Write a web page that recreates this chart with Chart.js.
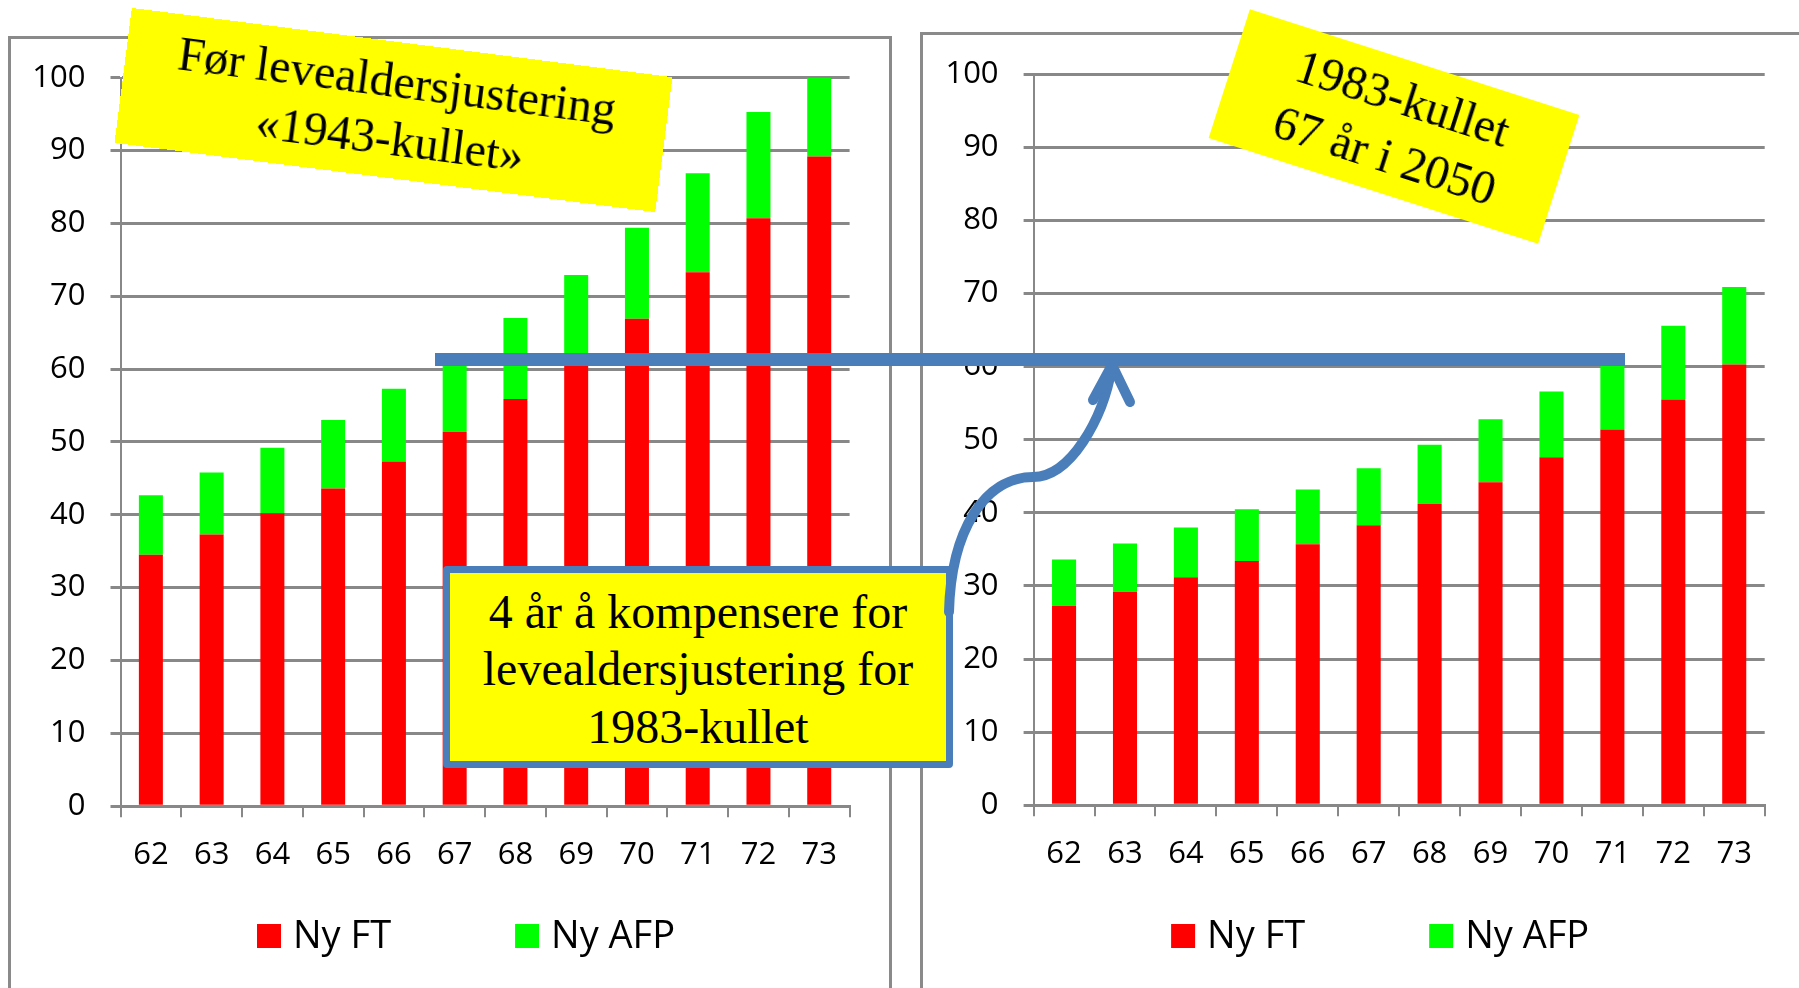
<!DOCTYPE html>
<html><head><meta charset="utf-8">
<script src="https://cdn.jsdelivr.net/npm/chart.js@4.4.1/dist/chart.umd.min.js"></script>
<style>
html,body{margin:0;padding:0;background:#fff;width:1799px;height:988px;overflow:hidden;position:relative;}
.panel{position:absolute;border:3px solid #8a8a8a;box-sizing:border-box;}
canvas{position:absolute;top:0;}
.note{position:absolute;background:#ffff00;font-family:"Liberation Serif","Times New Roman",serif;font-size:48px;color:#000;text-align:center;display:flex;flex-direction:column;justify-content:center;align-items:center;line-height:1.2;white-space:nowrap;box-sizing:border-box;}
</style></head>
<body>
<div class="panel" style="left:7.5px;top:36px;width:884px;height:1000px;"></div>
<div class="panel" style="left:920.3px;top:32px;width:1000px;height:1000px;"></div>
<canvas id="cLeft" width="900" height="988" style="left:0"></canvas>
<canvas id="cRight" width="899" height="988" style="left:900px"></canvas>

<div class="note" style="left:120.5px;top:42px;width:545px;height:136px;transform:rotate(7.3deg);">
<div>Før levealdersjustering</div><div>«1943-kullet»</div></div>
<div class="note" style="left:1221px;top:58.5px;width:346px;height:135px;transform:rotate(17.8deg);line-height:1.24;">
<div>1983-kullet</div><div>67 år i 2050</div></div>
<div class="note" style="left:443px;top:566px;width:510px;height:202px;border:7px solid #4a7ebb;border-radius:4px;padding-top:4px;">
<div>4 år å kompensere for</div><div>levealdersjustering for</div><div>1983-kullet</div></div>

<svg width="1799" height="988" style="position:absolute;left:0;top:0;pointer-events:none">
<rect x="435" y="353" width="1190" height="13" fill="#4a7ebb"/>
<path d="M949 612 C951 530 985 477 1033 477 C1070 477 1103 420 1112 367" stroke="#4a7ebb" stroke-width="10" fill="none" stroke-linecap="round"/>
<path d="M1093 400 L1112 365 L1130 402" stroke="#4a7ebb" stroke-width="10" fill="none" stroke-linecap="round" stroke-linejoin="round"/>
</svg>

<script>
const categories = ['62','63','64','65','66','67','68','69','70','71','72','73'];
const seriesNames = ['Ny FT','Ny AFP'];
const seriesColors = ['#ff0000','#00ff00'];
// Left chart: "Før levealdersjustering «1943-kullet»"
const leftFT  = [34.5, 37.3, 40.2, 43.6, 47.3, 51.4, 55.9, 61.0, 66.9, 73.3, 80.7, 89.2];
const leftAFP = [8.2, 8.5, 9.0, 9.4, 10.0, 10.4, 11.1, 11.9, 12.5, 13.6, 14.6, 10.8];
// Right chart: "1983-kullet, 67 år i 2050"
const rightFT  = [27.3, 29.2, 31.2, 33.4, 35.7, 38.3, 41.2, 44.2, 47.6, 51.4, 55.5, 60.3];
const rightAFP = [6.3, 6.6, 6.8, 7.1, 7.5, 7.8, 8.1, 8.6, 9.0, 9.6, 10.1, 10.6];
const yMin = 0, yMax = 100, yStep = 10;

const GRID = '#888888';
const TICK_FONT = {family:'"Open Sans", sans-serif', size:31};

const boxLegend = {
  id:'boxLegend',
  afterDraw(chart, args, opts){
    const ctx = chart.ctx, ca = chart.chartArea;
    ctx.save();
    ctx.font = '38px "Open Sans", sans-serif';
    const box = 24, gap = 12, itemGap = 124;
    const items = chart.data.datasets.map(d => ({label:d.label, color:d.backgroundColor, w:ctx.measureText(d.label).width}));
    const total = items.reduce((s,it) => s + box + gap + it.w, 0) + itemGap * (items.length - 1);
    let x = (ca.left + ca.right) / 2 + opts.shift - total / 2;
    const baseY = opts.y;
    items.forEach(it => {
      ctx.fillStyle = it.color;
      ctx.fillRect(x, baseY - 24, box, box);
      ctx.fillStyle = '#000';
      ctx.textBaseline = 'alphabetic';
      ctx.textAlign = 'left';
      ctx.fillText(it.label, x + box + gap, baseY);
      x += box + gap + it.w + itemGap;
    });
    ctx.restore();
  }
};

function makeChart(id, ft, afp, geo){
  return new Chart(document.getElementById(id), {
    type:'bar',
    data:{labels:categories, datasets:[
      {label:seriesNames[0], data:ft, backgroundColor:seriesColors[0], borderWidth:0, barPercentage:0.395, categoryPercentage:1},
      {label:seriesNames[1], data:afp, backgroundColor:seriesColors[1], borderWidth:0, barPercentage:0.395, categoryPercentage:1}
    ]},
    options:{
      responsive:false, animation:false, devicePixelRatio:1,
      layout:{padding:{left:0, top:geo.top, right:geo.right, bottom:geo.bottom}},
      plugins:{legend:{display:false}, tooltip:{enabled:false}, boxLegend:{y:948, shift:-19}},
      scales:{
        x:{stacked:true,
           grid:{display:true, drawOnChartArea:false, drawTicks:true, tickLength:11, color:GRID, lineWidth:2, offset:true},
           border:{display:true, color:GRID, width:3},
           ticks:{font:TICK_FONT, color:'#000', padding:19.5, maxRotation:0, autoSkip:false},
           afterFit:(s)=>{ s.height = 70; }},
        y:{stacked:true, min:yMin, max:yMax,
           ticks:{stepSize:yStep, font:TICK_FONT, color:'#000', padding:25},
           grid:{color:GRID, lineWidth:3, tickLength:10},
           border:{display:true, color:GRID, width:2},
           afterFit:(s)=>{ s.width = geo.axisW; }}
      }
    },
    plugins:[boxLegend]
  });
}

makeChart('cLeft', leftFT, leftAFP, {axisW:120.5, top:77.7, right:50.4, bottom:111.8});
makeChart('cRight', rightFT, rightAFP, {axisW:133.6, top:74.3, right:34.3, bottom:112.8});
</script>
</body></html>
